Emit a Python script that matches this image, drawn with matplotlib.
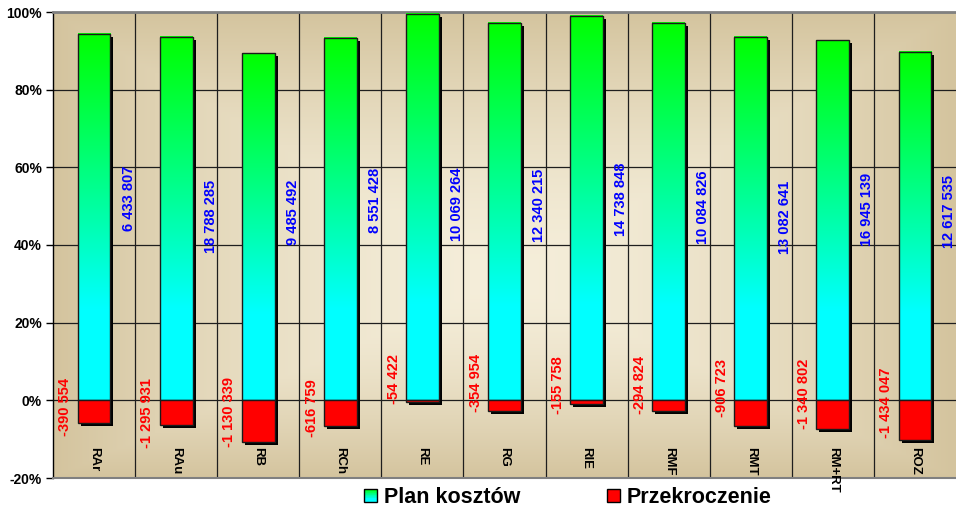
import numpy as np
import matplotlib
matplotlib.use('Agg')
import matplotlib.pyplot as plt
import matplotlib.transforms as mtransforms
from matplotlib.patches import Rectangle, Patch
from matplotlib.legend_handler import HandlerBase

plt.rcParams['font.family'] = ['Liberation Sans', 'DejaVu Sans']
plt.rcParams['font.weight'] = 'bold'

# dane
categories = ['RAr', 'RAu', 'RB', 'RCh', 'RE', 'RG', 'RIE', 'RMF', 'RMT', 'RM+RT', 'ROZ']
plan = [6433807, 18788285, 9485492, 8551428, 10069264, 12340215,
        14738848, 10084826, 13082641, 16945139, 12617535]
over = [-390554, -1295931, -1130339, -616759, -54422, -354954,
        -155758, -294824, -906723, -1340802, -1434047]

# położenie etykiet (w % osi)
blue_y = [52.1, 47.4, 48.5, 51.5, 50.5, 50.3, 51.8, 49.7, 47.2, 49.2, 48.7]
red_y = [-1.8, -3.4, -3.0, -2.1, 5.4, 4.6, 3.9, 3.9, 3.1, 1.8, -0.5]

plan = np.array(plan, dtype=float)
over = np.array(over, dtype=float)
total = plan + np.abs(over)
plan_pct = plan / total * 100
over_pct = over / total * 100
x = np.arange(len(categories))
w = 0.40


def fmt(v):
    return f"{int(v):,}".replace(',', ' ')


def grad_color(f):
    # f = 0 dół (cyjan), 1 góra (zielony)
    b = 1 - np.clip((f - 0.25) / 0.75, 0, 1)
    return (0.0, 1.0, b)


fig = plt.figure(figsize=(9.56, 5.14), dpi=100)
ax = fig.add_axes([53 / 956, 36 / 514, 903 / 956, 466 / 514])
ax.set_xlim(-0.5, 10.5)
ax.set_ylim(-20, 100)

# tło - gradient
ny, nx = 200, 400
u = np.linspace(-1, 1, nx)[None, :]
v = np.linspace(-1, 1, ny)[:, None]
v = np.where(v < 0.15, (v - 0.15) / 1.15, (v - 0.15) / 0.85)
t = np.clip(np.maximum(np.abs(u) * np.ones_like(v), np.abs(v) * np.ones_like(u)), 0, 1) ** 1.6
dark = np.array([212, 196, 158]) / 255
light = np.array([245, 238, 218]) / 255
bg = light + (dark - light) * t[..., None]
ax.imshow(bg, extent=(-0.5, 10.5, -20, 100), origin='upper', aspect='auto', zorder=-1)

# siatka
ax.set_xticks(x)
ax.set_xticks(np.arange(0.5, 10.5, 1), minor=True)
ax.set_yticks(np.arange(-20, 101, 20))
ax.set_yticklabels([f"{v}%" for v in range(-20, 101, 20)], fontsize=10, fontweight='bold')
ax.set_xticklabels([])
ax.tick_params(axis='x', which='both', length=0)
ax.tick_params(axis='y', direction='out', length=5, width=1, color='black', pad=3)
ax.set_axisbelow(True)
ax.grid(axis='y', which='major', color='#1e1e1e', linewidth=0.9)
ax.grid(axis='x', which='minor', color='#1e1e1e', linewidth=0.9)

ax.spines['right'].set_visible(False)
ax.spines['top'].set_color('#808080')
ax.spines['top'].set_linewidth(2)
ax.spines['bottom'].set_color('#808080')
ax.spines['bottom'].set_linewidth(1.5)
ax.spines['left'].set_color('black')
ax.spines['left'].set_linewidth(1)

# cień
off = mtransforms.ScaledTranslation(3 / 100, -3 / 100, fig.dpi_scale_trans)
sh1 = ax.bar(x, plan_pct, w, color='black', zorder=2)
sh2 = ax.bar(x, over_pct, w, color='black', zorder=2)
for p in list(sh1) + list(sh2):
    p.set_transform(ax.transData + off)

# słupki planu z gradientem
grad = np.array([grad_color(f) for f in np.linspace(1, 0, 256)])[:, None, :]
for xi, h in zip(x, plan_pct):
    ax.imshow(grad, extent=(xi - w / 2, xi + w / 2, 0, h), origin='upper',
              aspect='auto', zorder=3)
ax.bar(x, plan_pct, w, fill=False, edgecolor='#1a1a1a', linewidth=1, zorder=4)

# przekroczenie
ax.bar(x, over_pct, w, color='#ff0000', edgecolor='#1a1a1a', linewidth=1, zorder=4)

# etykiety
for i in range(len(categories)):
    ax.text(x[i] + 0.42, blue_y[i], fmt(plan[i]), rotation=90, color='#0000ff',
            fontsize=10.5, fontweight='bold', ha='center', va='center', zorder=5)
    ax.text(x[i] - 0.35, red_y[i], fmt(over[i]), rotation=90, color='#ff0000',
            fontsize=10.5, fontweight='bold', ha='center', va='center', zorder=5)
    ax.text(x[i], -12, categories[i], rotation=270, color='black',
            fontsize=9.5, fontweight='bold', ha='center', va='top', zorder=5,
            clip_on=False)


# legenda
class GradHandler(HandlerBase):
    def create_artists(self, legend, orig_handle, xdescent, ydescent,
                       width, height, fontsize, trans):
        arts = []
        n = 20
        for k in range(n):
            arts.append(Rectangle((-xdescent, -ydescent + height * k / n), width, height / n,
                                  facecolor=grad_color(k / (n - 1)), edgecolor='none',
                                  transform=trans))
        arts.append(Rectangle((-xdescent, -ydescent), width, height, fill=False,
                              edgecolor='black', linewidth=1, transform=trans))
        return arts


h1 = Patch(label='Plan kosztów')
h2 = Patch(facecolor='#ff0000', edgecolor='black', linewidth=1, label='Przekroczenie')
fig.legend([h1, h2], ['Plan kosztów', 'Przekroczenie'],
           handler_map={h1: GradHandler()},
           loc='center', bbox_to_anchor=(0.594, 0.032), ncol=2, frameon=False,
           prop={'size': 15.5, 'weight': 'bold'},
           handlelength=0.6, handleheight=0.6, handletextpad=0.35,
           columnspacing=4.0, borderpad=0, borderaxespad=0)

fig.savefig('out.png', dpi=100)
